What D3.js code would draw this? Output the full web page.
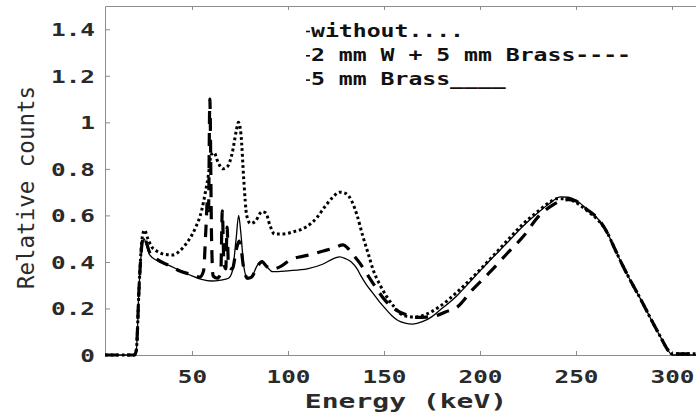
<!DOCTYPE html>
<html>
<head>
<meta charset="utf-8">
<script src="https://cdn.jsdelivr.net/npm/d3@7"></script>
<style>
  body { margin: 0; background: #fff; }
  svg { display: block; }
  text { font-family: "DejaVu Sans Mono", monospace; font-weight: bold; }
</style>
</head>
<body>
<div class="viz"></div>
<script>
const width = 696;
const height = 415;
const margin = { top: 6, right: 0, bottom: 60, left: 105 };

// x axis domain and ticks (keV), y axis domain and ticks
const xDomain = [4.7, 312.5];
const xTicks = [50, 100, 150, 200, 250, 300];
const yDomain = [0, 1.5];
const yTicks = [0, 0.2, 0.4, 0.6, 0.8, 1, 1.2, 1.4];

// "without" filter (dotted)
const withoutE = [4.7, 20, 21, 22.5, 24, 25.3, 27, 29, 32, 36, 40, 44, 48, 52, 55, 57, 58.5, 60, 61.5, 63.5, 66, 68.5, 71, 73, 74.2, 75.5, 77, 78.5, 80.5, 83, 86.5, 88.5, 90.5, 93, 97, 103, 110, 115, 119, 123, 127, 130, 133, 136, 139, 142, 144.4, 148, 151.4, 155, 158.3, 162, 166, 172, 179, 188, 196.5, 205, 214, 222, 231, 236, 240, 244, 249, 255, 262, 266, 270, 274, 279, 284, 289, 294, 298, 300, 302, 312.5];
const withoutY = [0, 0, 0.02, 0.3, 0.5, 0.537, 0.5, 0.465, 0.445, 0.432, 0.43, 0.45, 0.49, 0.55, 0.62, 0.7, 0.77, 0.86, 0.87, 0.83, 0.8, 0.81, 0.87, 0.96, 1.0, 0.95, 0.75, 0.6, 0.565, 0.575, 0.616, 0.61, 0.56, 0.52, 0.52, 0.53, 0.553, 0.59, 0.635, 0.675, 0.7, 0.695, 0.665, 0.6, 0.51, 0.43, 0.365, 0.3, 0.251, 0.21, 0.179, 0.166, 0.163, 0.175, 0.208, 0.27, 0.337, 0.41, 0.49, 0.56, 0.623, 0.655, 0.672, 0.672, 0.66, 0.625, 0.575, 0.53, 0.46, 0.39, 0.31, 0.235, 0.155, 0.078, 0.02, 0.005, 0.005, 0.005];

// "2 mm W + 5 mm Brass" (dashed)
const wBrassE = [4.7, 20, 21, 22.5, 24, 25, 26, 28, 32, 38, 44, 50, 54, 56, 57.3, 58, 58.6, 59.3, 60.2, 61, 63, 65, 65.8, 66.6, 67.6, 68.3, 69, 71, 73, 74.5, 75.5, 77, 79, 81, 84, 86.5, 89, 92, 96, 101, 110, 118.4, 124, 128.8, 131, 134, 137.5, 141, 144.3, 150.5, 156, 161.8, 167, 172, 177.5, 182, 188, 196, 205.4, 214, 222.6, 231, 237, 242, 246, 250, 255, 262, 266, 270, 274, 279, 284, 289, 294, 298, 300, 312.5];
const wBrassY = [0, 0, 0.02, 0.3, 0.48, 0.51, 0.49, 0.44, 0.41, 0.385, 0.36, 0.345, 0.335, 0.36, 0.55, 0.66, 0.62, 1.1, 0.5, 0.34, 0.33, 0.35, 0.62, 0.4, 0.37, 0.55, 0.38, 0.37, 0.45, 0.49, 0.46, 0.37, 0.33, 0.335, 0.38, 0.4, 0.38, 0.37, 0.38, 0.408, 0.428, 0.447, 0.46, 0.473, 0.46, 0.43, 0.394, 0.35, 0.308, 0.236, 0.195, 0.172, 0.162, 0.163, 0.17, 0.185, 0.205, 0.28, 0.358, 0.435, 0.51, 0.6, 0.64, 0.662, 0.668, 0.662, 0.63, 0.58, 0.53, 0.46, 0.39, 0.31, 0.235, 0.155, 0.078, 0.02, 0.005, 0.005];

// "5 mm Brass" (solid)
const brassE = [4.7, 20, 21, 22.5, 24, 25, 26, 28, 32, 38, 44, 50, 55, 60, 65, 69, 71, 73, 74.3, 75.5, 77, 79, 81, 84, 86.5, 89, 92, 100, 110, 118, 124, 127, 130, 133, 136, 138, 141, 144.3, 148, 151.4, 154, 157.3, 161, 165, 170, 175, 179.2, 188, 196.5, 205, 213.9, 222, 230, 236, 242, 246, 250, 255, 262, 266, 270, 274, 279, 284, 289, 294, 298, 300, 312.5];
const brassY = [0, 0, 0.02, 0.3, 0.47, 0.5, 0.48, 0.43, 0.405, 0.385, 0.362, 0.34, 0.325, 0.318, 0.322, 0.33, 0.36, 0.5, 0.6, 0.52, 0.38, 0.327, 0.335, 0.385, 0.405, 0.38, 0.358, 0.362, 0.37, 0.39, 0.415, 0.422, 0.414, 0.4, 0.37, 0.34, 0.3, 0.265, 0.225, 0.193, 0.17, 0.148, 0.137, 0.133, 0.143, 0.165, 0.193, 0.255, 0.33, 0.405, 0.48, 0.55, 0.61, 0.65, 0.68, 0.678, 0.665, 0.632, 0.58, 0.53, 0.46, 0.39, 0.31, 0.235, 0.155, 0.078, 0.02, 0, 0];

const legendLabels = ["without....", "2 mm W + 5 mm Brass----", "5 mm Brass____"];

const svg = d3.select(".viz").append("svg")
  .attr("width", width)
  .attr("height", height);

const xScale = d3.scaleLinear().domain(xDomain).range([margin.left, width - margin.right]);
const yScale = d3.scaleLinear().domain(yDomain).range([height - margin.bottom, margin.top]);

const axisColor = "#8c8c8c";
const labelColor = "#2a2a2a";
const stretch = 1.4; // tick labels look horizontally stretched

// bottom axis, ticks pointing in
const xAxis = svg.append("g")
  .attr("transform", `translate(0, ${yScale(0)})`)
  .call(d3.axisBottom(xScale).tickValues(xTicks).tickSizeInner(-4).tickSizeOuter(0).tickPadding(0));
xAxis.selectAll("text")
  .attr("y", 28)
  .attr("dy", 0)
  .attr("transform", `scale(${stretch},1)`)
  .attr("font-size", 17.4)
  .attr("fill", labelColor);

// top axis (box), ticks pointing in, no labels
const xTop = svg.append("g")
  .attr("transform", `translate(0, ${yScale(1.5)})`)
  .call(d3.axisTop(xScale).tickValues(xTicks).tickSizeInner(-4).tickSizeOuter(0).tickFormat(""));

// left axis
const yAxis = svg.append("g")
  .attr("transform", `translate(${margin.left}, 0)`)
  .call(d3.axisLeft(yScale).tickValues(yTicks).tickSizeInner(-5).tickSizeOuter(0).tickFormat(d3.format("")));
yAxis.selectAll("text")
  .attr("x", -10 / stretch)
  .attr("dy", "0.36em")
  .attr("transform", `scale(${stretch},1)`)
  .attr("font-size", 17.4)
  .attr("fill", labelColor);

svg.selectAll(".domain, .tick line")
  .attr("stroke", axisColor)
  .attr("stroke-width", 1);
svg.selectAll(".tick text").attr("font-family", "DejaVu Sans Mono").attr("font-weight", "bold");

// curves
const clip = svg.append("clipPath").attr("id", "plot-clip")
  .append("rect")
  .attr("x", margin.left)
  .attr("y", margin.top)
  .attr("width", width - margin.left)
  .attr("height", yScale(0) - margin.top + 2);

const line = d3.line()
  .x(d => xScale(d[0]))
  .y(d => yScale(d[1]))
  .curve(d3.curveMonotoneX);

const series = [
  { e: brassE, y: brassY, width: 1.3, dash: null },
  { e: wBrassE, y: wBrassY, width: 3.2, dash: "13,9" },
  { e: withoutE, y: withoutY, width: 3, dash: "2.8,2.8" },
];

svg.append("g")
  .attr("clip-path", "url(#plot-clip)")
  .selectAll("path")
  .data(series)
  .join("path")
  .attr("d", s => line(s.e.map((e, i) => [e, s.y[i]])))
  .attr("fill", "none")
  .attr("stroke", "#000")
  .attr("stroke-width", s => s.width)
  .attr("stroke-dasharray", s => s.dash);

// legend
const legend = svg.append("g").attr("class", "legend");
legend.selectAll("line")
  .data(legendLabels)
  .join("line")
  .attr("x1", 306)
  .attr("x2", 310)
  .attr("y1", (d, i) => 31.5 + i * 24.3)
  .attr("y2", (d, i) => 31.5 + i * 24.3)
  .attr("stroke", "#111")
  .attr("stroke-width", 1.6);
legend.selectAll("text")
  .data(legendLabels)
  .join("text")
  .attr("transform", (d, i) => `translate(311, ${36.5 + i * 24.3}) scale(1.36,1)`)
  .attr("font-size", 17)
  .attr("fill", "#111")
  .style("white-space", "pre")
  .text(d => d);

// axis titles
svg.append("text")
  .attr("transform", `translate(406, 407.5) scale(${stretch},1)`)
  .attr("text-anchor", "middle")
  .attr("font-size", 20)
  .attr("fill", labelColor)
  .text("Energy (keV)");

svg.append("text")
  .attr("transform", "translate(34, 187.5) rotate(-90)")
  .attr("text-anchor", "middle")
  .attr("font-size", 22.5)
  .style("font-weight", "normal")
  .attr("fill", labelColor)
  .text("Relative counts");
</script>
</body>
</html>
